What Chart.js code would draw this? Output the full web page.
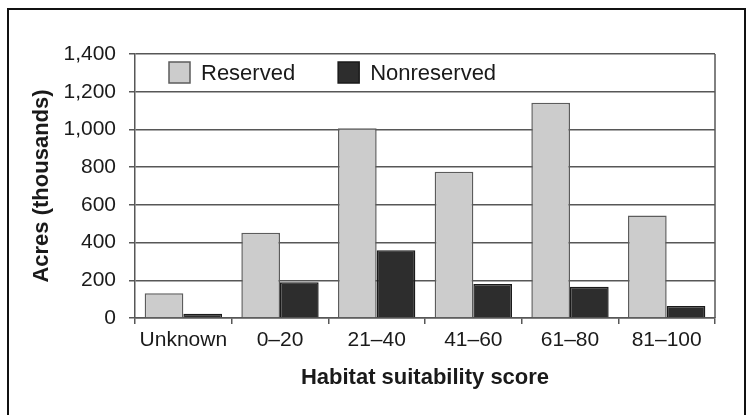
<!DOCTYPE html>
<html>
<head>
<meta charset="utf-8">
<script src="https://cdn.jsdelivr.net/npm/chart.js@4/dist/chart.umd.min.js"></script>
<style>
  html, body { margin: 0; padding: 0; background: #ffffff; }
  #wrap { position: relative; width: 752px; height: 415px; overflow: hidden; }
  #frame {
    position: absolute; left: 7px; top: 8px; width: 735px; height: 500px;
    border: 2px solid #111111; border-bottom: none; pointer-events: none;
  }
  canvas { position: absolute; left: 0; top: 0; }
</style>
</head>
<body>
<div id="wrap">
  <canvas id="chart" width="752" height="415"></canvas>
  <div id="frame"></div>
</div>
<script>
// Acres (thousands) by habitat suitability score
const categories = ['Unknown', '0–20', '21–40', '41–60', '61–80', '81–100'];
const reserved = [131, 452, 1006, 776, 1142, 543];
const nonreserved = [22, 189, 359, 180, 166, 64];
const seriesNames = ['Reserved', 'Nonreserved'];
const yMax = 1400;
const yStep = 200;

const FONT = '"Liberation Sans", Arial, Helvetica, sans-serif';
const gridColor = '#575757';

// Legend drawn inside the plot, above the bars
const insideLegend = {
  id: 'insideLegend',
  afterDatasetsDraw(chart) {
    const { ctx, chartArea } = chart;
    const box = 21;
    const y = chartArea.top + 8;
    let x = chartArea.left + 34;
    ctx.save();
    ctx.font = '22px ' + FONT;
    ctx.textBaseline = 'middle';
    chart.data.datasets.forEach((ds) => {
      ctx.fillStyle = ds.backgroundColor;
      ctx.fillRect(x, y, box, box);
      ctx.lineWidth = 1.5;
      ctx.strokeStyle = ds.borderColor;
      ctx.strokeRect(x, y, box, box);
      ctx.fillStyle = '#1a1a1a';
      ctx.fillText(ds.label, x + box + 11, y + box / 2 + 1);
      x += box + 11 + ctx.measureText(ds.label).width + 43;
    });
    ctx.restore();
  }
};

// Right-hand edge of the plot box
const plotEdge = {
  id: 'plotEdge',
  beforeDatasetsDraw(chart) {
    const { ctx, chartArea } = chart;
    ctx.save();
    ctx.strokeStyle = gridColor;
    ctx.lineWidth = 1.5;
    ctx.beginPath();
    ctx.moveTo(chartArea.right, chartArea.top);
    ctx.lineTo(chartArea.right, chartArea.bottom);
    ctx.stroke();
    ctx.restore();
  }
};

new Chart(document.getElementById('chart'), {
  type: 'bar',
  data: {
    labels: categories,
    datasets: [
      {
        label: seriesNames[0],
        data: reserved,
        backgroundColor: '#cccccc',
        borderColor: '#5c5c5c',
        borderWidth: 1.5,
        borderSkipped: 'start'
      },
      {
        label: seriesNames[1],
        data: nonreserved,
        backgroundColor: '#2d2d2d',
        borderColor: '#1a1a1a',
        borderWidth: 1.5,
        borderSkipped: 'start'
      }
    ]
  },
  options: {
    responsive: false,
    animation: false,
    devicePixelRatio: 1,
    layout: { padding: { top: 54, right: 37, bottom: 0, left: 0 } },
    datasets: { bar: { categoryPercentage: 0.8, barPercentage: 1.0 } },
    plugins: {
      legend: { display: false },
      tooltip: { enabled: false }
    },
    scales: {
      x: {
        afterFit(scale) { scale.height = 97; },
        offset: true,
        grid: {
          offset: true,
          drawOnChartArea: false,
          drawTicks: true,
          tickLength: 6,
          color: gridColor,
          lineWidth: 1.5
        },
        border: { display: true, color: gridColor, width: 1.5 },
        ticks: {
          color: '#1a1a1a',
          padding: 4,
          maxRotation: 0,
          autoSkip: false,
          font: { family: FONT, size: 21 }
        },
        title: {
          display: true,
          text: 'Habitat suitability score',
          color: '#1a1a1a',
          font: { family: FONT, size: 22, weight: 'bold' },
          padding: { top: 0, bottom: 24 }
        }
      },
      y: {
        afterFit(scale) { scale.width = 135; },
        min: 0,
        max: yMax,
        ticks: {
          stepSize: yStep,
          color: '#1a1a1a',
          padding: 13,
          font: { family: FONT, size: 21 },
          callback: (v) => Number(v).toLocaleString('en-US')
        },
        grid: {
          color: gridColor,
          lineWidth: 1.5,
          drawTicks: true,
          tickLength: 6
        },
        border: { display: true, color: gridColor, width: 1.5 },
        title: {
          display: true,
          text: 'Acres (thousands)',
          color: '#1a1a1a',
          font: { family: FONT, size: 22, weight: 'bold' },
          padding: { top: 29, bottom: 0 }
        }
      }
    }
  },
  plugins: [plotEdge, insideLegend]
});
</script>
</body>
</html>
